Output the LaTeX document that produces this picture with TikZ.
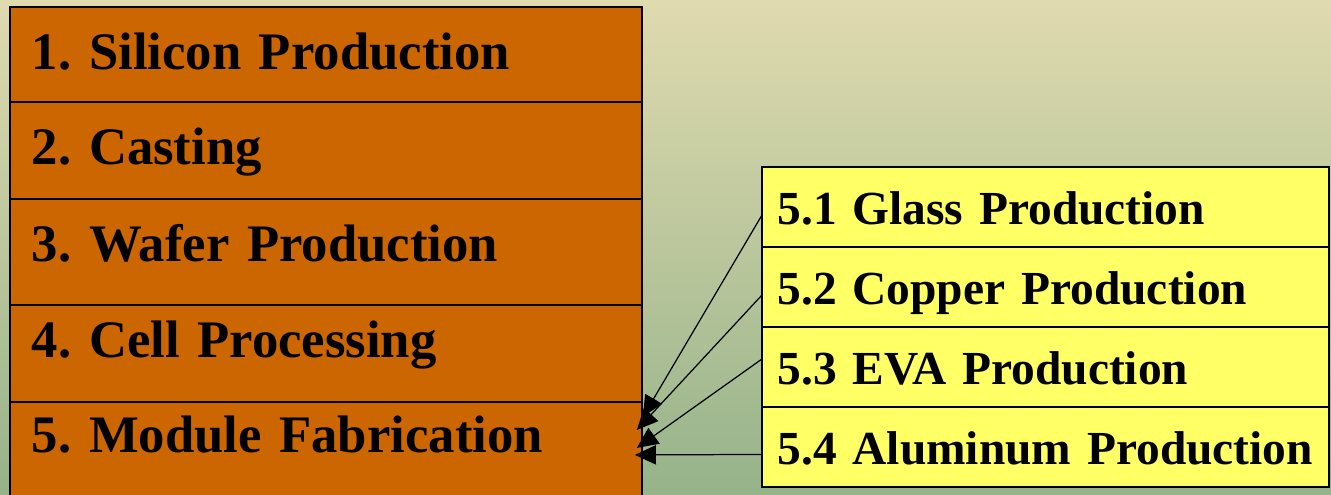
\documentclass[tikz,border=0pt]{standalone}
\usepackage{fontspec}
\setmainfont{Liberation Serif}
\usepackage{xcolor}
\usetikzlibrary{arrows.meta,positioning,calc}
\definecolor{stageorange}{HTML}{CC6600}
\definecolor{partyellow}{HTML}{FFFF66}
\definecolor{bgtop}{HTML}{E0DAAF}
\definecolor{bgbottom}{HTML}{96B38A}
\frenchspacing

\begin{document}
\begin{tikzpicture}[
    x=0.02cm, y=-0.02cm,
    stage/.style={rectangle, draw=black, line width=0.8pt, fill=stageorange, text width=11.76cm, align=left, inner xsep=0.44cm, inner ysep=0pt, outer sep=0pt, text depth=0pt, anchor=north west, font=\fontsize{30}{36}\selectfont\bfseries},
    part/.style={rectangle, draw=black, line width=0.8pt, fill=partyellow, text width=10.72cm, align=left, inner xsep=0.31cm, inner ysep=0pt, outer sep=0pt, text height=0.72cm, text depth=0pt, minimum height=1.60cm, anchor=north west, font=\fontsize{27}{32}\selectfont\bfseries},
    link/.style={-{Triangle[length=12pt,width=11pt]}, line width=0.7pt}
]
    \useasboundingbox (0,0) rectangle (1331,494);
    \fill[top color=bgtop, bottom color=bgbottom] (0,0) rectangle (1331,494);

    % Production stages
    \node[stage, text height=0.62cm, minimum height=1.90cm] (stage1) at (10,7) {1. Silicon Production};
    \node[stage, text height=0.58cm, minimum height=1.94cm, below=0pt of stage1] (stage2) {2. Casting};
    \node[stage, text height=0.40cm, minimum height=2.12cm, below=0pt of stage2] (stage3) {3. Wafer Production};
    \node[stage, text height=0.18cm, minimum height=1.94cm, below=0pt of stage3] (stage4) {4. Cell Processing};
    \node[stage, text height=0.10cm, minimum height=1.94cm, below=0pt of stage4] (stage5) {5. Module Fabrication};

    % Module materials
    \node[part] (part1) at (762,167) {5.1 Glass Production};
    \node[part, below=0pt of part1] (part2) {5.2 Copper Production};
    \node[part, below=0pt of part2] (part3) {5.3 EVA Production};
    \node[part, below=0pt of part3] (part4) {5.4 Aluminum Production};

    % Arrows into module fabrication
    \coordinate (tip1) at ($(stage5.north east)+(1,15)$);
    \coordinate (tip2) at ($(stage5.north east)+(-5,28)$);
    \coordinate (tip3) at ($(stage5.north east)+(-5,46)$);
    \coordinate (tip4) at ($(stage5.north east)+(-7,53)$);
    \draw[link] ($(part1.west)+(0,8)$) -- (tip1);
    \draw[link] ($(part2.west)+(0,8)$) -- (tip2);
    \draw[link] ($(part3.west)+(0,-8)$) -- (tip3);
    \draw[link] ($(part4.west)+(0,7.5)$) -- (tip4);
\end{tikzpicture}
\end{document}
